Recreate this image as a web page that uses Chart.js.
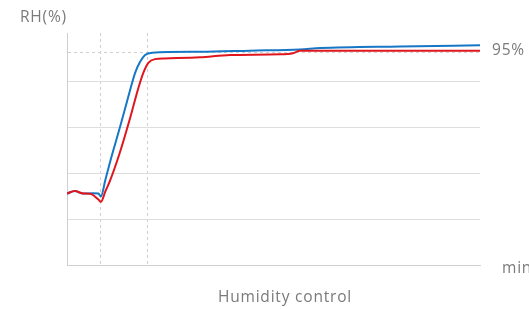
<!DOCTYPE html>
<html lang="en">
  <head>
    <meta charset="UTF-8" />
    <title>Humidity control</title>
    <script src="https://cdn.jsdelivr.net/npm/chart.js@4.4.1/dist/chart.umd.min.js"></script>
    <style>
      body { margin: 0; background: #fff; }
      #wrap { width: 529px; height: 309px; }
    </style>
  </head>
  <body>
    <div id="wrap"><canvas id="myChart"></canvas></div>
    <script>
      // time axis runs 0..100 (arbitrary minutes), humidity in scale units
      const blue_x = [0, 1.9, 3.9, 6.4, 7.6, 8.2, 9.3, 10.4, 12.8, 15.3, 16.5, 17.7, 18.9, 20.6, 32.2, 44.3, 56.4, 61.3, 80.6, 100];
      const blue_y = [31.2, 32.3, 31.2, 31.3, 31.2, 29.9, 37.2, 44.8, 60.0, 76.5, 83.9, 88.7, 91.7, 92.7, 93.1, 93.6, 94.1, 94.7, 95.4, 95.9];
      const red_x = [0, 1.9, 3.9, 5.6, 7.6, 8.2, 9.3, 10.4, 12.8, 15.3, 17.3, 18.5, 19.7, 21.3, 23.7, 32.2, 39.5, 51.6, 54.7, 56.4, 61.3, 100];
      const red_y = [31.2, 32.3, 31.2, 31.1, 28.6, 27.6, 32.2, 36.7, 49.1, 64.3, 77.4, 84.0, 88.3, 89.9, 90.2, 90.7, 91.7, 92.0, 92.5, 93.5, 93.6, 93.6];
      const y_grid = [20, 40, 60, 80, 93];
      const x_marks = [8.2, 19.4];
      const target_value = 93;
      const target_label = "95%";
      const y_title = "RH(%)";
      const x_unit = "min";
      const chart_title = "Humidity control";

      const pts = (xs, ys) => xs.map((x, i) => ({ x, y: ys[i] }));

      const textPlugin = {
        id: "texts",
        afterDraw(c) {
          const { ctx, chartArea: a, scales } = c;
          ctx.save();
          ctx.fillStyle = "#7a7a7a";
          ctx.textBaseline = "middle";
          ctx.font = "15.5px 'Open Sans'";
          ctx.letterSpacing = "0.8px";
          ctx.textAlign = "left";
          ctx.fillText(y_title, a.left - 47, 18);
          ctx.fillText(target_label, a.right + 12, scales.y.getPixelForValue(target_value) - 1);
          ctx.fillText(x_unit, a.right + 22, a.bottom + 4);
          ctx.textAlign = "center";
          ctx.fillText(chart_title, a.left + 218, a.bottom + 33);
          ctx.restore();
        },
      };

      new Chart(document.getElementById("myChart"), {
        type: "line",
        data: {
          datasets: [
            {
              data: pts(red_x, red_y),
              borderColor: "#e0161e",
              borderWidth: 2,
              pointRadius: 0,
              cubicInterpolationMode: "monotone",
            },
            {
              data: pts(blue_x, blue_y),
              borderColor: "#1677c6",
              borderWidth: 2,
              pointRadius: 0,
              cubicInterpolationMode: "monotone",
            },
          ],
        },
        options: {
          responsive: true,
          maintainAspectRatio: false,
          animation: false,
          layout: { padding: { left: 67, right: 49, top: 33, bottom: 44 } },
          plugins: { legend: { display: false }, tooltip: { enabled: false } },
          scales: {
            x: {
              type: "linear",
              min: 0,
              max: 100,
              afterBuildTicks: s => (s.ticks = x_marks.map(v => ({ value: v }))),
              ticks: { display: false },
              grid: { color: "#d0d0d0", drawTicks: false },
              border: { color: "#cfcfcf", width: 1, dash: [3, 3] },
            },
            y: {
              min: 0,
              max: 101.3,
              afterBuildTicks: s => (s.ticks = y_grid.map(v => ({ value: v }))),
              ticks: { display: false },
              grid: { color: ctx => (ctx.tick && ctx.tick.value === target_value ? "#d0d0d0" : "#dedede"), drawTicks: false },
              border: {
                color: "#cfcfcf",
                width: 1,
                dash: ctx => (ctx.tick && ctx.tick.value === target_value ? [3, 3] : []),
              },
            },
          },
        },
        plugins: [textPlugin],
      });
    </script>
  </body>
</html>
